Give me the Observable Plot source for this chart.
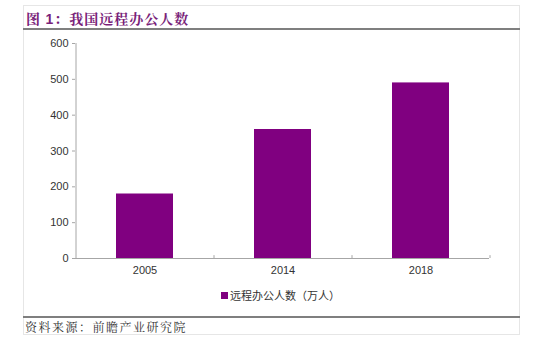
<!DOCTYPE html>
<html>
<head>
<meta charset="utf-8">
<script src="https://cdn.jsdelivr.net/npm/d3@7"></script>
<script src="https://cdn.jsdelivr.net/npm/@observablehq/plot@0.6"></script>
<style>
  html, body { margin: 0; padding: 0; background: #fff; }
  #wrap { position: relative; width: 550px; height: 353px; overflow: hidden; font-family: "Noto Sans CJK SC", sans-serif; }
  #frame { position: absolute; left: 23px; top: 5px; width: 497px; height: 330px; border: 1px solid #e6e6e6; box-sizing: border-box; }
  #title { position: absolute; left: 26px; top: 8px; font-size: 14px; font-weight: bold; color: #7a1f7a; letter-spacing: 1px; font-family: "Noto Serif CJK SC", "Noto Sans CJK SC", serif; }
  #title .num { font-family: "Liberation Sans", Arial, sans-serif; }
  #topline { position: absolute; left: 23px; top: 28px; width: 497px; height: 2px; background: #7f7f7f; }
  #botline { position: absolute; left: 23px; top: 316px; width: 497px; height: 2px; background: #7f7f7f; }
  #source { position: absolute; left: 25px; top: 318px; font-size: 12px; color: #333; letter-spacing: 1.5px; font-family: "Noto Serif CJK SC", "Noto Sans CJK SC", serif; }
  #legend { position: absolute; left: 221px; top: 287px; font-size: 11px; color: #333; display: flex; align-items: center; }
  #legend .sw { width: 7px; height: 7px; background: #800080; margin-right: 2px; }
  #chart { position: absolute; left: 0; top: 0; }
</style>
</head>
<body>
<div id="wrap">
  <div id="chart"></div>
  <div id="frame"></div>
  <div id="title">图 <span class="num">1</span>：我国远程办公人数</div>
  <div id="topline"></div>
  <div id="legend"><span class="sw"></span><span id="legtext"></span></div>
  <div id="botline"></div>
  <div id="source">资料来源：前瞻产业研究院</div>
</div>
<script>
const years = ["2005", "2014", "2018"];
const workers = [180, 360, 490];
const yTicks = [0, 100, 200, 300, 400, 500, 600];
const seriesName = "远程办公人数（万人）";

const data = years.map((y, i) => ({year: y, value: workers[i]}));
document.getElementById("legtext").textContent = seriesName;

const W = 550, H = 353, ML = 75, MR = 61, MT = 43, MB = 95;
const step = (W - ML - MR) / years.length;

const chart = Plot.plot({
  width: W,
  height: H,
  marginLeft: ML,
  marginRight: MR,
  marginTop: MT,
  marginBottom: MB,
  style: {fontFamily: "Liberation Sans, Arial, sans-serif", fontSize: "11px", color: "#333", background: "transparent"},
  x: {domain: years, paddingInner: 0.59, paddingOuter: 0.295, label: null},
  y: {domain: [0, 600], label: null},
  marks: [
    Plot.barY(data, {x: "year", y: "value", fill: "#800080"}),
    Plot.ruleY([0], {stroke: "#a6a6a6"}),
    Plot.ruleX([years[0]], {x: d => d, dx: -step / 2, stroke: "#a6a6a6"}),
    Plot.ruleX(years, {x: d => d, dx: step / 2, y1: 0, y2: 8, stroke: "#a6a6a6"}),
    Plot.axisY({ticks: yTicks, tickSize: 3, tickPadding: 4, stroke: "#a6a6a6", fill: "#333"}),
    Plot.axisX({tickSize: 0, tickPadding: 8, fill: "#333"})
  ]
});
document.getElementById("chart").appendChild(chart);
</script>
</body>
</html>
